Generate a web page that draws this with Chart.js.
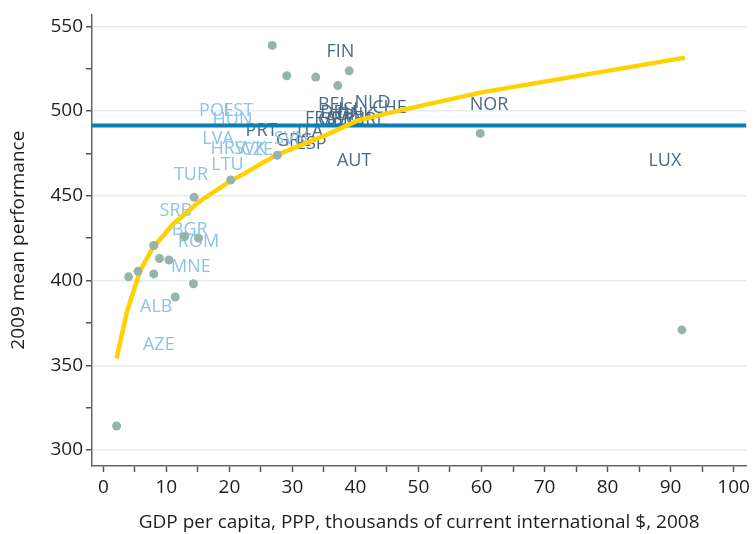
<!DOCTYPE html>
<html>
<head>
<meta charset="utf-8">
<script src="https://cdn.jsdelivr.net/npm/chart.js@4.4.1/dist/chart.umd.min.js"></script>
<style>
  html, body { margin: 0; padding: 0; background: #fff; }
  #wrap { width: 754px; height: 534px; }
</style>
</head>
<body>
<div id="wrap"><canvas id="chart"></canvas></div>
<script>
// non-European countries, drawn as dots
const pointGdp   = [26.8, 29.1, 33.7, 37.2, 39.0, 59.8, 91.8, 2.1, 20.2, 27.6, 14.4, 8.0, 8.9, 10.4, 5.5, 4.0, 8.0, 14.3, 11.4, 12.9, 15.1];
const pointScore = [538.7, 520.8, 520.0, 515.0, 523.7, 486.8, 370.9, 314.2, 459.3, 473.9, 449.1, 420.7, 413.0, 412.1, 405.5, 402.2, 403.9, 398.1, 390.3, 426.0, 425.0];

// European countries, drawn as their code
const labelCodes = ['FIN', 'BEL', 'NLD', 'CHE', 'FRA', 'DEU', 'GBR', 'SWE', 'DNK', 'ISL', 'IRL', 'NOR', 'LUX', 'AUT', 'ITA', 'ESP', 'GRC', 'PRT',
                    'POL', 'EST', 'HUN', 'LVA', 'HRV', 'SVK', 'CZE', 'SVN', 'LTU', 'TUR', 'SRB', 'BGR', 'ROM', 'MNE', 'ALB', 'AZE'];
const labelGdp   = [37.6, 36.5, 42.7, 45.4, 34.5, 37.3, 36.9, 38.4, 40.0, 39.2, 42.8, 61.2, 89.1, 39.8, 32.8, 33.0, 30.2, 25.1,
                    17.9, 21.4, 20.5, 18.2, 19.8, 23.3, 24.4, 29.8, 19.7, 13.9, 11.5, 13.7, 15.1, 13.9, 8.4, 8.8];
const labelScore = [535, 503.8, 505.1, 502.1, 495.3, 498.7, 494.6, 495.2, 497.5, 500.5, 494.6, 503.4, 470.6, 470.6, 487.6, 480.7, 482.2, 488.3,
                    500, 500, 494.7, 483.7, 477.5, 477.5, 477.3, 483.5, 468, 462.6, 441.3, 430, 423, 407.9, 384.6, 362];
const labelGroup = ['west', 'west', 'west', 'west', 'west', 'west', 'west', 'west', 'west', 'west', 'west', 'west', 'west', 'west', 'west', 'west', 'west', 'west',
                    'east', 'east', 'east', 'east', 'east', 'east', 'east', 'east', 'east', 'east', 'east', 'east', 'east', 'east', 'east', 'east'];

// fitted curve
const fitGdp   = [2.1, 3.7, 5.8, 7.8, 11.0, 15.2, 20.0, 22.7, 24.7, 27.5, 35.3, 40.5, 47.3, 60.0, 92.3];
const fitScore = [354, 380.9, 405.5, 419.0, 433.1, 446.5, 458.3, 463.8, 468.2, 474.1, 485.8, 494.6, 500.5, 511.0, 531.5];

const oecdMean = 491.5;

const FONT = "'Open Sans', sans-serif";
const TEXT = '#1e1e1e';

const zip = (xs, ys) => xs.map((x, i) => ({ x: x, y: ys[i] }));

const countryLabels = {
  id: 'countryLabels',
  beforeDatasetsDraw(chart) {
    const ctx = chart.ctx;
    const meta = chart.getDatasetMeta(0);
    const area = chart.chartArea;
    ctx.save();
    ctx.font = `18px ${FONT}`;
    ctx.textAlign = 'center';
    ctx.textBaseline = 'middle';
    meta.data.forEach((el, i) => {
      ctx.fillStyle = labelGroup[i] === 'west' ? '#4b6a86' : '#8cc3e8';
      ctx.fillText(labelCodes[i], el.x, el.y);
    });
    // OECD average line
    const yPix = chart.scales.y.getPixelForValue(oecdMean);
    ctx.strokeStyle = '#0b80b4';
    ctx.lineWidth = 4;
    ctx.beginPath();
    ctx.moveTo(area.left, yPix);
    ctx.lineTo(area.right, yPix);
    ctx.stroke();
    ctx.restore();
  }
};

new Chart(document.getElementById('chart'), {
  type: 'scatter',
  data: {
    datasets: [
      {
        label: 'labels',
        data: zip(labelGdp, labelScore),
        pointRadius: 0,
        pointHoverRadius: 0,
        order: 3
      },
      {
        label: 'fit',
        data: zip(fitGdp, fitScore),
        showLine: true,
        borderColor: '#ffd100',
        borderWidth: 4.5,
        pointRadius: 0,
        tension: 0,
        order: 2
      },
      {
        label: 'countries',
        data: zip(pointGdp, pointScore),
        backgroundColor: '#97b4aa',
        borderWidth: 0,
        pointRadius: 4.5,
        order: 1
      }
    ]
  },
  options: {
    responsive: true,
    maintainAspectRatio: false,
    animation: false,
    layout: { padding: { top: 12, right: 4, left: 0, bottom: 0 } },
    plugins: {
      legend: { display: false },
      tooltip: { enabled: false }
    },
    scales: {
      x: {
        type: 'linear',
        min: -1.8,
        max: 102,
        afterFit: s => { s.height = 68; },
        border: { color: '#666', width: 1.5 },
        grid: { drawOnChartArea: false, tickColor: '#555', tickLength: 6, tickWidth: 1.5 },
        ticks: {
          stepSize: 5,
          includeBounds: false,
          autoSkip: false,
          maxRotation: 0,
          padding: 4,
          color: TEXT,
          font: { family: FONT, size: 19 },
          callback: v => (v % 10 === 0 ? v : '')
        },
        title: {
          display: true,
          text: 'GDP per capita, PPP, thousands of current international $, 2008',
          color: TEXT,
          font: { family: FONT, size: 19 },
          padding: { top: 0, bottom: 0 }
        }
      },
      y: {
        min: 290.6,
        max: 557,
        afterFit: s => { s.width = 92; },
        border: { color: '#666', width: 1.5 },
        grid: {
          color: c => (c.tick && c.tick.value % 50 === 0 ? '#e3ecf0' : 'rgba(0,0,0,0)'),
          lineWidth: 1.5,
          tickColor: '#555',
          tickLength: 6,
          tickWidth: 1.5
        },
        ticks: {
          stepSize: 25,
          includeBounds: false,
          autoSkip: false,
          padding: 3,
          color: TEXT,
          font: { family: FONT, size: 19 },
          callback: v => (v % 50 === 0 ? v : '')
        },
        title: {
          display: true,
          text: '2009 mean performance',
          color: TEXT,
          font: { family: FONT, size: 19 },
          padding: { top: 7, bottom: 0 }
        }
      }
    }
  },
  plugins: [countryLabels]
});
</script>
</body>
</html>
